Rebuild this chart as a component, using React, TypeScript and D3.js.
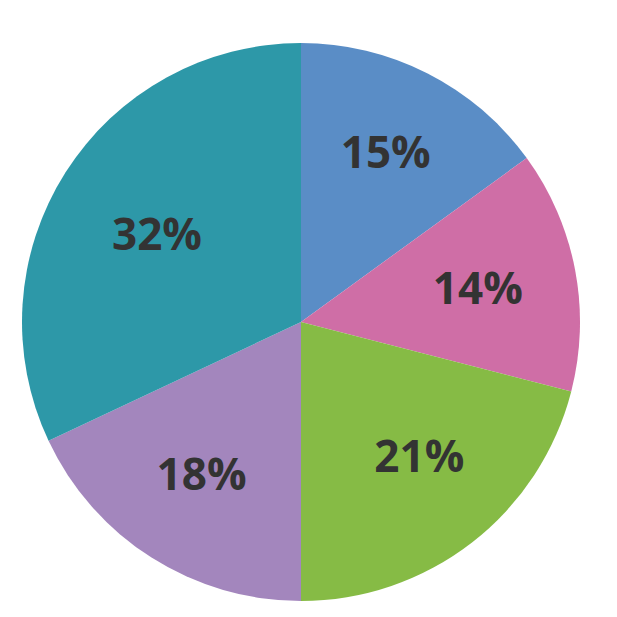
import React from "react";
import * as d3 from "d3";

const labels = ["15%", "14%", "21%", "18%", "32%"];
const values = [15, 14, 21, 18, 32];
const colors = ["#5A8DC6", "#CF6EA6", "#86BB45", "#A386BD", "#2D98A8"];
// small per-label layout nudges (px) to match the reference's label placement
const labelNudge: [number, number][] = [[3, -11], [0, -1], [8, -9], [-3, -1], [8, 7]];

export default function App() {
  const W = 617, H = 617;
  const cx = 301, cy = 322, R = 279;
  const LR = 180;
  const pie = d3.pie<number>().sort(null).value((d) => d);
  const arcs = pie(values);
  const arc = d3.arc<d3.PieArcDatum<number>>().innerRadius(0).outerRadius(R);
  const labelArc = d3.arc<d3.PieArcDatum<number>>().innerRadius(LR).outerRadius(LR);
  return (
    <svg width={W} height={H} style={{ position: "absolute", left: 0, top: 0, background: "#fff" }}>
      <g transform={`translate(${cx},${cy})`}>
        {arcs.map((a, i) => (
          <path key={i} d={arc(a) || ""} fill={colors[i]} />
        ))}
        {arcs.map((a, i) => {
          const [x, y] = labelArc.centroid(a);
          return (
            <text
              key={"t" + i}
              x={x + labelNudge[i][0]}
              y={y + labelNudge[i][1]}
              textAnchor="middle"
              dominantBaseline="central"
              fontFamily="'Open Sans', sans-serif"
              fontWeight={700}
              fontSize={44}
              fill="#333333"
            >
              {labels[i]}
            </text>
          );
        })}
      </g>
    </svg>
  );
}
